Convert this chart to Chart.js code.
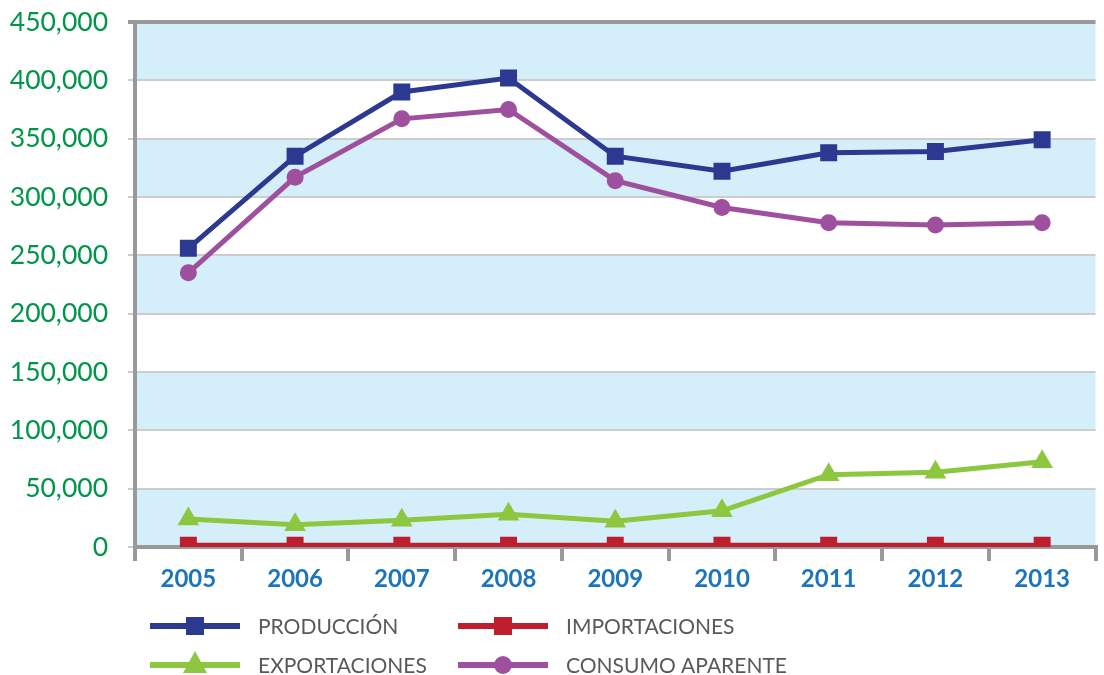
<!DOCTYPE html>
<html>
<head>
<meta charset="utf-8">
<script src="https://cdn.jsdelivr.net/npm/chart.js@4/dist/chart.umd.min.js"></script>
<style>
  html, body { margin: 0; padding: 0; background: #fff; overflow: hidden; }
  #wrap { width: 1108px; height: 675px; }
</style>
</head>
<body>
<div id="wrap"><canvas id="chart"></canvas></div>
<script>
// Years on the x axis
const years = ['2005', '2006', '2007', '2008', '2009', '2010', '2011', '2012', '2013'];

// Series values
const produccion     = [256000, 335000, 390000, 402000, 335000, 322000, 338000, 339000, 349000];
const importaciones  = [1500, 1500, 1500, 1500, 1500, 1500, 1500, 1500, 1500];
const exportaciones  = [24000, 19000, 23000, 28000, 22000, 31000, 62000, 64000, 73000];
const consumo        = [235000, 317000, 367000, 375000, 314000, 291000, 278000, 276000, 278000];

const seriesNames = ['PRODUCCIÓN', 'IMPORTACIONES', 'EXPORTACIONES', 'CONSUMO APARENTE'];

// Y axis range
const yMin = 0;
const yMax = 450000;
const yStep = 50000;

const colors = {
    prod: '#2b3990',
    imp: '#be1e2d',
    exp: '#8dc63f',
    cons: '#9e4f9e'
};

// Alternating light blue / white horizontal bands behind the lines
const bandPlugin = {
    id: 'bands',
    beforeDraw(chart) {
        const { ctx, chartArea, scales } = chart;
        const y = scales.y;
        ctx.save();
        ctx.fillStyle = '#d4eefa';
        let k = 0;
        for (let v = yMin; v < yMax; v += yStep, k++) {
            if (k % 2 !== 0) continue;
            const top = y.getPixelForValue(v + yStep);
            const bot = y.getPixelForValue(v);
            ctx.fillRect(chartArea.left, top, chartArea.right - chartArea.left, bot - top);
        }
        ctx.restore();
    }
};

// Legend below the chart: line sample with marker, two columns
function drawMarker(ctx, style, x, y, color) {
    ctx.fillStyle = color;
    ctx.beginPath();
    if (style === 'rect') {
        ctx.rect(x - 9, y - 9, 18, 18);
    } else if (style === 'circle') {
        ctx.arc(x, y, 9, 0, Math.PI * 2);
    } else if (style === 'triangle') {
        ctx.moveTo(x, y - 14);
        ctx.lineTo(x + 12, y + 8);
        ctx.lineTo(x - 12, y + 8);
        ctx.closePath();
    }
    ctx.fill();
}

const legendPlugin = {
    id: 'lineLegend',
    afterDraw(chart) {
        const { ctx } = chart;
        const colX = [150, 458];
        const rowY = [626, 665];
        ctx.save();
        chart.data.datasets.forEach((ds, i) => {
            const x = colX[i % 2];
            const y = rowY[Math.floor(i / 2)];
            ctx.strokeStyle = ds.borderColor;
            ctx.lineWidth = 6;
            ctx.beginPath();
            ctx.moveTo(x, y);
            ctx.lineTo(x + 90, y);
            ctx.stroke();
            drawMarker(ctx, ds.pointStyle, x + 45, y, ds.borderColor);
            ctx.fillStyle = '#58595b';
            ctx.font = '21px Lato';
            ctx.textBaseline = 'middle';
            ctx.textAlign = 'left';
            ctx.fillText(ds.label, x + 108, y + 1);
        });
        ctx.restore();
    }
};

function makeSet(label, data, color, style, radius) {
    return {
        label: label,
        data: data,
        borderColor: color,
        backgroundColor: color,
        borderWidth: 5,
        pointStyle: style,
        pointRadius: radius,
        pointBorderWidth: 0,
        tension: 0
    };
}

new Chart(document.getElementById('chart'), {
    type: 'line',
    data: {
        labels: years,
        datasets: [
            makeSet(seriesNames[0], produccion, colors.prod, 'rect', 12),
            makeSet(seriesNames[1], importaciones, colors.imp, 'rect', 12),
            makeSet(seriesNames[2], exportaciones, colors.exp, 'triangle', 12.5),
            makeSet(seriesNames[3], consumo, colors.cons, 'circle', 8.5)
        ]
    },
    options: {
        responsive: true,
        maintainAspectRatio: false,
        animation: false,
        layout: { padding: { top: 22, right: 0, bottom: 0, left: 0 } },
        scales: {
            x: {
                offset: true,
                afterFit(scale) { scale.height = 128; },
                grid: {
                    offset: true,
                    drawOnChartArea: false,
                    drawTicks: true,
                    tickLength: 14,
                    color: '#999999',
                    lineWidth: 4
                },
                border: { display: true, color: '#999999', width: 4 },
                ticks: {
                    color: '#1c75bc',
                    font: { family: 'Lato', size: 24, weight: 'bold' },
                    padding: 4
                }
            },
            y: {
                min: yMin,
                max: yMax,
                afterFit(scale) {
                    scale.width = 135;
                    scale.paddingTop = 0;
                    scale.paddingBottom = 0;
                },
                grid: {
                    color: ctx => ctx.tick && ctx.tick.value === yMax ? '#999999' : '#cccccc',
                    lineWidth: ctx => ctx.tick && ctx.tick.value === yMax ? 4 : 2,
                    tickLength: 7
                },
                border: { display: true, color: '#999999', width: 4 },
                ticks: {
                    stepSize: yStep,
                    color: '#00964a',
                    font: { family: 'Lato', size: 26.5 },
                    padding: 20,
                    callback: v => v.toLocaleString('en-US')
                }
            }
        },
        plugins: {
            legend: { display: false },
            tooltip: { enabled: false }
        }
    },
    plugins: [bandPlugin, legendPlugin]
});
</script>
</body>
</html>
